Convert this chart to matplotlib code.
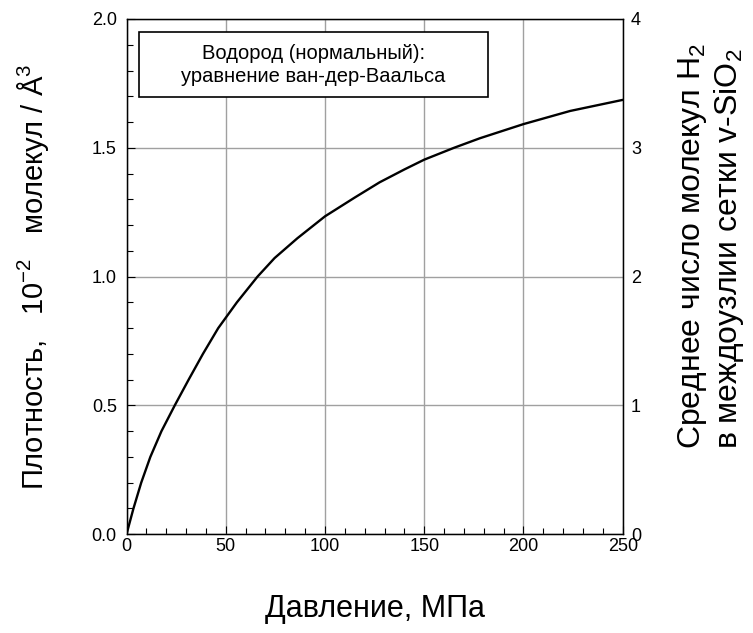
import matplotlib.pyplot as plt
from matplotlib.patches import Rectangle
from matplotlib.ticker import MultipleLocator

plt.rcParams['font.family'] = ['Liberation Sans', 'DejaVu Sans']
plt.rcParams['mathtext.fontset'] = 'custom'
plt.rcParams['mathtext.rm'] = 'Liberation Sans'

# давление, МПа
pressure = [0, 3.5, 7.4, 12.0, 17.6, 24.3, 31.3, 38.5, 46.2, 55.6, 66.0, 74.6, 86.1,
            100, 115, 127.5, 140, 150, 165, 178, 200, 223.5, 250]
# плотность, 10^-2 молекул / Å^3
density = [0, 0.1, 0.2, 0.3, 0.4, 0.5, 0.6, 0.7, 0.8, 0.9, 1.0, 1.072, 1.149,
           1.234, 1.307, 1.366, 1.416, 1.454, 1.5, 1.537, 1.592, 1.643, 1.686]

x_ticks = [0, 50, 100, 150, 200, 250]
left_ticks = [0.0, 0.5, 1.0, 1.5, 2.0]
right_ticks = [0, 1, 2, 3, 4]

fig = plt.figure(figsize=(7.53, 6.33), dpi=100)
ax = fig.add_axes([0.168, 0.156, 0.659, 0.814])

ax.plot(pressure, density, color='black', lw=1.7, zorder=3,
        solid_joinstyle='round', solid_capstyle='round')

ax.set_xlim(0, 250)
ax.set_ylim(0, 2.0)
ax.set_xticks(x_ticks)
ax.set_yticks(left_ticks)
ax.set_yticklabels(['%.1f' % v for v in left_ticks])
ax.xaxis.set_minor_locator(MultipleLocator(10))
ax.yaxis.set_minor_locator(MultipleLocator(0.1))
ax.tick_params(which='both', direction='in', top=False, right=False, labelsize=13)
ax.tick_params(which='major', length=6, width=0.8)
ax.tick_params(which='minor', length=4, width=0.8)
ax.tick_params(axis='x', pad=3)
ax.tick_params(axis='y', pad=7)
ax.grid(True, which='major', color='#a0a0a0', lw=1)
for s in ax.spines.values():
    s.set_linewidth(1)

ax.set_xlabel('Давление, МПа', fontsize=22, labelpad=28)
ax.set_ylabel(r'Плотность,   $\mathregular{10^{-2}}$   молекул / Å$\mathregular{^3}$',
              fontsize=21)
ax.yaxis.set_label_coords(-0.153, 0.5)

ax2 = ax.twinx()
ax2.set_ylim(0, 4)
ax2.set_yticks(right_ticks)
ax2.tick_params(axis='y', length=0, labelsize=13, pad=6)

# подпись правой оси (строки выровнены по началу)
fig.text(711 / 753, 1 - 246 / 633,
         'Среднее число молекул H$\\mathregular{_2}$\n'
         'в междоузлии сетки v-SiO$\\mathregular{_2}$',
         rotation=90, ha='center', va='center', multialignment='left',
         fontsize=23, linespacing=1.12)

# рамка с подписью
ax.add_patch(Rectangle((0.025, 0.849), 0.704, 0.125, transform=ax.transAxes,
                       facecolor='white', edgecolor='black', lw=1.2, zorder=5))
ax.text(0.377, 0.911, 'Водород (нормальный):\nуравнение ван-дер-Ваальса',
        transform=ax.transAxes, ha='center', va='center', fontsize=14.5,
        linespacing=1.3, zorder=6)

fig.savefig('out.png', dpi=100)
